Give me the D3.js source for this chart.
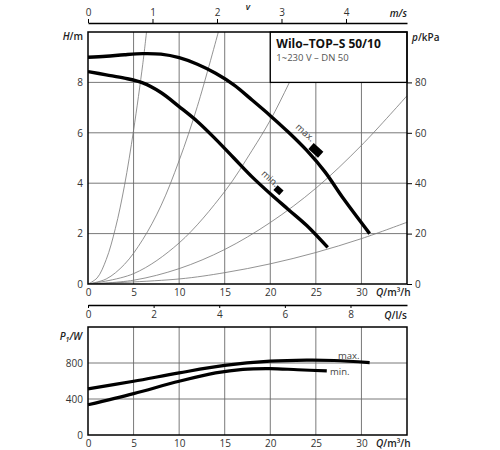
<!DOCTYPE html>
<html><head><meta charset="utf-8">
<script src="https://cdn.jsdelivr.net/npm/d3@7"></script>
<style>body{margin:0;background:#fff}svg{display:block}text{font-family:"Open Sans",sans-serif}</style>
</head><body><svg id="c" width="500" height="450"></svg>
<script>
// ---------- data ----------
const qTicks = [0,5,10,15,20,25,30];
const hTicks = [0,2,4,6,8];
const pTicks = [0,20,40,60,80];
const vTicks = [0,1,2,3,4];
const lsTicks = [0,2,4,6,8];
const pwTicks = [0,400,800];
// pump curves H (m) vs Q (m3/h)
const hMax = [[0,9.0],[2,9.04],[4,9.1],[6,9.14],[8,9.12],[10,8.98],[12,8.72],[14,8.36],[16,7.9],[18,7.3],[20,6.68],[22,6.02],[24,5.3],[26,4.45],[28,3.4],[30.9,2.0]];
const hMin = [[0,8.43],[2,8.3],[4,8.17],[6,7.98],[8,7.6],[10,7.04],[12,6.45],[14,5.75],[16,5.0],[18,4.25],[20,3.58],[22,2.95],[24,2.32],[26.3,1.45]];
// system curves
const sys1 = [[0,0],[1,0.24],[2,0.97],[3,2.2],[4,3.9],[5,6.1],[6,8.7],[6.42,10]];
const sys2 = [[0,0],[2,0.2],[4,0.78],[6,1.76],[8,3.1],[10,4.9],[12,7.05],[14.3,10]];
const sys3 = [[0,0],[5,0.41],[10,1.63],[15,3.67],[18,5.3],[20,6.5],[22.1,8.0],[24.7,10]];
const sys4 = [[0,0],[5,0.15],[10,0.61],[15,1.37],[20,2.44],[25,3.8],[30,5.5],[35,7.47]];
const sys5 = [[0,0],[10,0.2],[15,0.45],[20,0.8],[25,1.25],[30,1.8],[35,2.45]];
// power curves P1 (W) vs Q
const pMax = [[0,512],[5,597],[10,690],[15,773],[20,820],[24,832],[27,828],[30.9,805]];
const pMin = [[0,336],[5,460],[10,597],[14,690],[17,730],[20,738],[23,725],[26.2,712]];
// markers on curves [Q, H]
const markMax = [25, 5.3];
const markMin = [20.9, 3.72];

// ---------- drawing ----------
const svg = d3.select("#c");
const L=88, R=407, T=32, B=284, T2=327, B2=435;
const x = d3.scaleLinear([0,35],[L,R]);
const y = d3.scaleLinear([0,10],[B,T]);
const yk = d3.scaleLinear([0,100],[B,T]);
const xv = d3.scaleLinear([0,4.946],[L,R]);
const xls = d3.scaleLinear([0,35/3.6],[L,R]);
const y2 = d3.scaleLinear([0,1200],[B2,T2]);
const grid = "#6a6a6a", txt = "#333";
const fmt = d3.format("d");

// grids top
const g1 = svg.append("g");
g1.selectAll(".vg").data(qTicks.slice(1)).join("line")
  .attr("x1",d=>x(d)).attr("x2",d=>x(d)).attr("y1",T).attr("y2",B)
  .attr("stroke",grid).attr("stroke-width",0.9);
g1.selectAll(".hg").data(hTicks.slice(1)).join("line")
  .attr("x1",L).attr("x2",R).attr("y1",d=>y(d)).attr("y2",d=>y(d))
  .attr("stroke",grid).attr("stroke-width",0.9);

const line = d3.line().x(d=>x(d[0])).y(d=>y(d[1])).curve(d3.curveCatmullRom);
svg.append("clipPath").attr("id","cp").append("rect").attr("x",L).attr("y",T).attr("width",R-L).attr("height",B-T);
const sg = svg.append("g").attr("clip-path","url(#cp)");
[sys1,sys2,sys3,sys4,sys5].forEach(s=>{
  sg.append("path").attr("d",line(s)).attr("fill","none").attr("stroke","#777").attr("stroke-width",0.8);
});
[hMax,hMin].forEach(s=>{
  sg.append("path").attr("d",line(s)).attr("fill","none").attr("stroke","#000").attr("stroke-width",3.4);
});

// legend box
svg.append("rect").attr("x",x(20)).attr("y",T).attr("width",R-x(20)).attr("height",y(8)-T)
  .attr("fill","#fff").attr("stroke","#000").attr("stroke-width",1.3);
svg.append("text").attr("x",x(20)+6).attr("y",48).attr("font-size",12).attr("font-weight",700).attr("fill","#111").text("Wilo–TOP–S 50/10");
svg.append("text").attr("x",x(20)+6).attr("y",60.5).attr("font-size",9.5).attr("fill","#555").text("1~230 V – DN 50");

// frame top
svg.append("rect").attr("x",L).attr("y",T).attr("width",R-L).attr("height",B-T).attr("fill","none").attr("stroke","#000").attr("stroke-width",1.5);

// markers and labels on curves
svg.append("rect").attr("x",-6.5).attr("y",-4).attr("width",13).attr("height",8).attr("fill","#000")
  .attr("transform",`translate(${x(markMax[0])},${y(markMax[1])}) rotate(42)`);
svg.append("rect").attr("x",-4).attr("y",-3.2).attr("width",8).attr("height",6.4).attr("fill","#000")
  .attr("transform",`translate(${x(markMin[0])},${y(markMin[1])}) rotate(42)`);
svg.append("text").attr("transform",`translate(303,135) rotate(42)`).attr("text-anchor","middle").attr("font-size",9.5).attr("fill","#444").text("max.");
svg.append("text").attr("transform",`translate(268,181) rotate(42)`).attr("text-anchor","middle").attr("font-size",9.5).attr("fill","#444").text("min.");

// axes top plot
function styleAxis(g){ g.selectAll("text").attr("font-size",10).attr("fill",txt).attr("font-family","Open Sans"); g.selectAll("line").attr("stroke","#000"); g.select(".domain").attr("stroke","#000").attr("stroke-width",1.3); }
svg.append("g").attr("transform",`translate(0,${B})`).call(d3.axisBottom(x).tickValues(qTicks).tickFormat(fmt).tickSize(0).tickPadding(5)).call(styleAxis).call(g=>g.select(".domain").remove());
svg.append("g").attr("transform",`translate(${L},0)`).call(d3.axisLeft(y).tickValues(hTicks).tickFormat(fmt).tickSize(0).tickPadding(5)).call(styleAxis).call(g=>g.select(".domain").remove());
svg.append("g").attr("transform",`translate(${R},0)`).call(d3.axisRight(yk).tickValues(pTicks).tickFormat(fmt).tickSize(5).tickPadding(3)).call(styleAxis).call(g=>g.select(".domain").remove());
svg.append("g").attr("transform",`translate(0,23)`).call(d3.axisTop(xv).tickValues(vTicks).tickFormat(fmt).tickSize(4).tickSizeOuter(0).tickPadding(3)).call(styleAxis);
svg.append("g").attr("transform",`translate(0,305)`).call(d3.axisBottom(xls).tickValues(lsTicks).tickFormat(fmt).tickSize(3).tickSizeOuter(0).tickPadding(3)).call(styleAxis);

// axis titles
function title(xp,yp,anchor,parts,size){
  const t = svg.append("text").attr("x",xp).attr("y",yp).attr("text-anchor",anchor).attr("font-size",size||10).attr("font-weight",600).attr("fill","#222");
  parts.forEach(p=>{
    const s = t.append("tspan").attr("font-style",p[1]?"italic":"normal").text(p[0]);
    if(p[2]) s.attr("dy",p[2]).attr("font-size",7);
  });
}
title(83,40,"end",[["H",1],["/m"]]);
title(412,41,"start",[["p",1],["/kPa"]]);
title(407,16.5,"end",[["m/s",1]]);
title(248,10,"middle",[["v",1]],9);
title(376,296,"start",[["Q",1],["/m³/h"]]);
title(407,319,"end",[["Q",1],["/l/s"]]);

// ---------- bottom chart ----------
const g2 = svg.append("g");
g2.selectAll(".vg2").data(qTicks.slice(1)).join("line")
  .attr("x1",d=>x(d)).attr("x2",d=>x(d)).attr("y1",T2).attr("y2",B2).attr("stroke",grid).attr("stroke-width",0.9);
g2.selectAll(".hg2").data(pwTicks.slice(1)).join("line")
  .attr("x1",L).attr("x2",R).attr("y1",d=>y2(d)).attr("y2",d=>y2(d)).attr("stroke",grid).attr("stroke-width",0.9);
const line2 = d3.line().x(d=>x(d[0])).y(d=>y2(d[1])).curve(d3.curveCatmullRom);
[pMax,pMin].forEach(s=>{
  svg.append("path").attr("d",line2(s)).attr("fill","none").attr("stroke","#000").attr("stroke-width",3.2);
});
svg.append("rect").attr("x",L).attr("y",T2).attr("width",R-L).attr("height",B2-T2).attr("fill","none").attr("stroke","#000").attr("stroke-width",1.5);
svg.append("text").attr("x",338).attr("y",359).attr("font-size",9.5).attr("fill","#444").text("max.");
svg.append("text").attr("x",330).attr("y",375).attr("font-size",9.5).attr("fill","#444").text("min.");
svg.append("g").attr("transform",`translate(0,${B2})`).call(d3.axisBottom(x).tickValues(qTicks).tickFormat(fmt).tickSize(0).tickPadding(5)).call(styleAxis).call(g=>g.select(".domain").remove());
svg.append("g").attr("transform",`translate(${L},0)`).call(d3.axisLeft(y2).tickValues(pwTicks).tickFormat(fmt).tickSize(0).tickPadding(5)).call(styleAxis).call(g=>g.select(".domain").remove());
const pt = svg.append("text").attr("x",82).attr("y",340).attr("text-anchor","end").attr("font-size",10).attr("font-weight",600).attr("fill","#222").attr("font-style","italic");
pt.append("tspan").text("P");
pt.append("tspan").attr("dy",2).attr("font-size",7).text("1");
pt.append("tspan").attr("dy",-2).text("/W");
title(376,447,"start",[["Q",1],["/m³/h"]]);
</script></body></html>
